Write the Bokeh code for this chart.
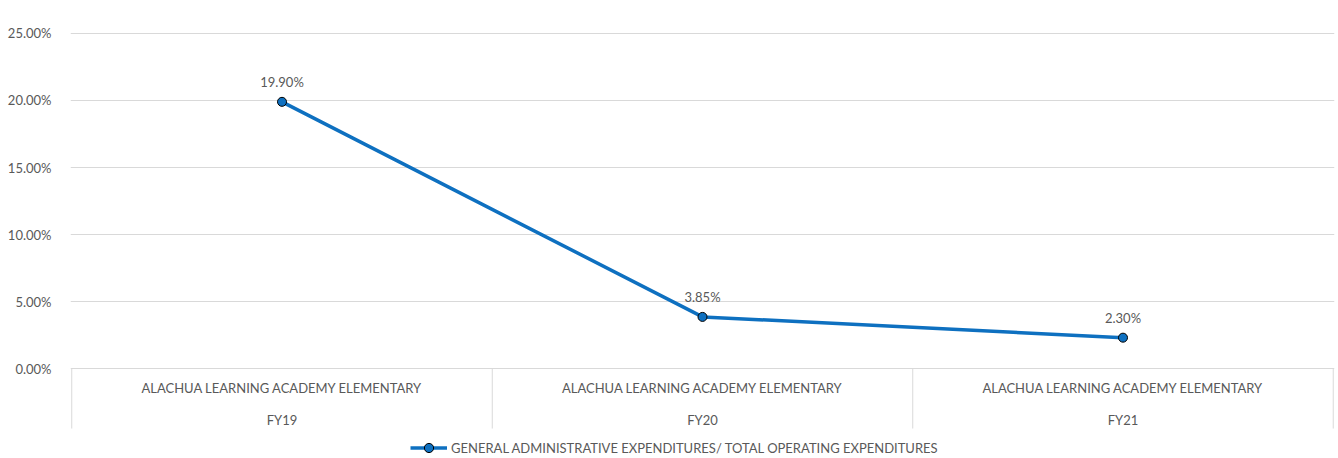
from bokeh.plotting import figure
from bokeh.models import (FixedTicker, PrintfTickFormatter, Range1d, ColumnDataSource,
                          Legend, LegendItem)
from bokeh.core.properties import value
from bokeh.embed import file_html
from bokeh.resources import INLINE

# ---- data ----
schools = ["ALACHUA LEARNING ACADEMY ELEMENTARY"] * 3
years = ["FY19", "FY20", "FY21"]
ratio_pct = [19.90, 3.85, 2.30]
y_ticks = [0, 5, 10, 15, 20, 25]
series_name = "GENERAL ADMINISTRATIVE EXPENDITURES/ TOTAL OPERATING EXPENDITURES"

FONT = "Lato"
TXT = "#595959"
BLUE = "#0E70C0"
GRID = "#d9d9d9"
FS = "13px"

n = len(years)
xc = [i + 0.5 for i in range(n)]

p = figure(width=1338, height=458, output_backend="svg", toolbar_location=None,
           x_range=Range1d(-0.003, n + 0.003), y_range=Range1d(-6.716, 25.373),
           min_border_left=70, min_border_right=4, min_border_top=28, min_border_bottom=0)
p.outline_line_color = None
p.xaxis.visible = False
p.xgrid.visible = False

ya = p.yaxis[0]
ya.ticker = FixedTicker(ticks=y_ticks)
ya.formatter = PrintfTickFormatter(format="%.2f%%")
ya.axis_line_color = None
ya.major_tick_line_color = None
ya.minor_tick_line_color = None
ya.major_label_standoff = 13
ya.major_label_text_font = FONT
ya.major_label_text_font_size = FS
ya.major_label_text_color = TXT
p.ygrid.ticker = FixedTicker(ticks=y_ticks)
p.ygrid.grid_line_color = GRID
p.ygrid.grid_line_width = 1

# category table below the zero line
sep_x = list(range(n + 1))
p.segment(x0=sep_x, x1=sep_x, y0=[0] * (n + 1), y1=[-4.48] * (n + 1),
          line_color=GRID, line_width=1)
cat = ColumnDataSource(dict(x=xc, school=schools, year=years,
                            ys=[-1.49] * n, yy=[-3.88] * n))
p.text(x="x", y="ys", text="school", source=cat, text_align="center",
       text_baseline="middle", text_font=value(FONT), text_font_size=FS,
       text_color=TXT)
p.text(x="x", y="yy", text="year", source=cat, text_align="center",
       text_baseline="middle", text_font=value(FONT), text_font_size=FS,
       text_color=TXT)

# series
src = ColumnDataSource(dict(x=xc, y=ratio_pct,
                            lab=["%.2f%%" % v for v in ratio_pct]))
lr = p.line("x", "y", source=src, line_color=BLUE, line_width=3.5)
sr = p.scatter("x", "y", source=src, size=9, fill_color=BLUE,
               line_color="black", line_width=1)
p.text(x="x", y="y", text="lab", source=src, y_offset=-20, text_align="center",
       text_baseline="middle", text_font=value(FONT), text_font_size=FS,
       text_color=TXT)

legend = Legend(items=[LegendItem(label=series_name, renderers=[lr, sr])],
                location=(340, -1), orientation="horizontal",
                background_fill_alpha=0, border_line_color=None, padding=0,
                margin=0, glyph_width=37, glyph_height=23, label_standoff=4,
                label_text_font=FONT, label_text_font_size=FS,
                label_text_color=TXT)
p.add_layout(legend, "center")

open("out.html", "w").write(file_html(p, INLINE))
